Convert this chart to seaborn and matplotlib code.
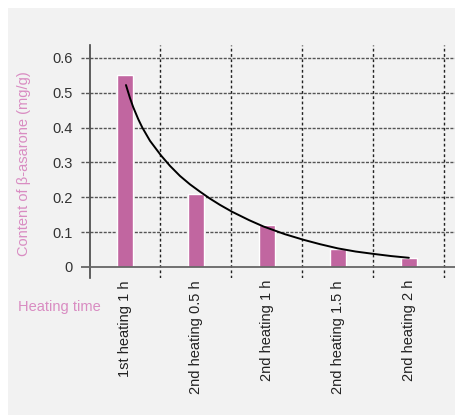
import matplotlib
matplotlib.use("Agg")
import matplotlib.pyplot as plt
import matplotlib.patches as mpatches
import seaborn as sns
import pandas as pd

# Data
categories = ["1st heating 1 h", "2nd heating 0.5 h", "2nd heating 1 h",
              "2nd heating 1.5 h", "2nd heating 2 h"]
content = [0.55, 0.21, 0.12, 0.05, 0.025]

# Decay trend curve (position in category units, content in mg/g)
trend_x = [0.014, 0.070, 0.117, 0.187, 0.244, 0.352, 0.507, 0.634, 0.775,
           0.915, 1.056, 1.197, 1.338, 1.511, 1.75, 1.95, 2.25, 2.51, 2.75,
           3.00, 3.25, 3.51, 3.75, 4.00]
trend_y = [0.522, 0.485, 0.458, 0.424, 0.400, 0.362, 0.320, 0.290, 0.261,
           0.237, 0.216, 0.196, 0.178, 0.158, 0.134, 0.116, 0.094, 0.078,
           0.065, 0.053, 0.044, 0.037, 0.031, 0.026]

y_ticks = [0, 0.1, 0.2, 0.3, 0.4, 0.5, 0.6]
y_tick_labels = ["0", "0.1", "0.2", "0.3", "0.4", "0.5", "0.6"]

sns.set_theme(style="white")
plt.rcParams["font.family"] = ["Liberation Sans", "DejaVu Sans"]

W, H = 455, 416
fig = plt.figure(figsize=(W / 100, H / 100), dpi=100)
fig.patch.set_facecolor("white")

# light grey panel behind everything
fig.patches.append(mpatches.Rectangle((8 / W, 1 / H), 447 / W, 407 / H,
                                      transform=fig.transFigure,
                                      facecolor="#f2f2f2", edgecolor="none",
                                      zorder=-10))

ax = fig.add_axes([89.5 / W, 138 / H, 365.5 / W, 233 / H])
ax.set_facecolor("none")

bar_color = "#c166a0"
label_pink = "#d98cc2"

df = pd.DataFrame({"category": categories, "content": content})
sns.barplot(data=df, x="category", y="content", color=bar_color,
            saturation=1, width=0.225, ax=ax, zorder=3)

trend = pd.DataFrame({"x": trend_x, "y": trend_y})
sns.lineplot(data=trend, x="x", y="y", sort=False, color="black",
             linewidth=1.4, ax=ax, zorder=4)
for ln in ax.get_lines():
    ln.set_solid_joinstyle("round")

ax.set_xlim(-0.5, 4.65)
ax.set_ylim(-0.032, 0.637)

# horizontal dashed grid, reaching a little left of the axis
for v in y_ticks[1:]:
    ax.hlines(v, -0.613, 4.65, colors="#555555", linestyles=(0, (2.2, 1.0)),
              linewidth=1.0, clip_on=False, zorder=1)
# vertical dotted separators between categories
for v in [0.5, 1.5, 2.5, 3.5, 4.5]:
    ax.axvline(v, color="#222222", linestyle=(0, (2.0, 1.8)), linewidth=1.0,
               zorder=1)
# zero baseline
ax.hlines(0, -0.613, 4.65, colors="#666666", linewidth=1.3, clip_on=False,
          zorder=5)

for s in ["top", "right", "bottom"]:
    ax.spines[s].set_visible(False)
ax.spines["left"].set_color("#444444")
ax.spines["left"].set_linewidth(1.2)

ax.set_yticks(y_ticks)
ax.set_yticklabels(y_tick_labels, fontsize=10.5, color="#333333")
ax.tick_params(axis="y", length=0, pad=12)
ax.set_xticks(range(len(categories)))
ax.set_xticklabels(categories, rotation=90, fontsize=10.5, color="#222222",
                   va="top", ha="center")
ax.tick_params(axis="x", length=0, pad=1.5)
ax.set_xlabel("")
ax.set_ylabel("")

fig.text(24.5 / W, 1 - 163.5 / H, "Content of β-asarone (mg/g)", rotation=90,
         ha="center", va="center", fontsize=10.5, color=label_pink)
fig.text(18 / W, 1 - 307 / H, "Heating time", ha="left", va="center",
         fontsize=10.5, color=label_pink)

fig.savefig("out.png", dpi=100, facecolor=fig.get_facecolor())
